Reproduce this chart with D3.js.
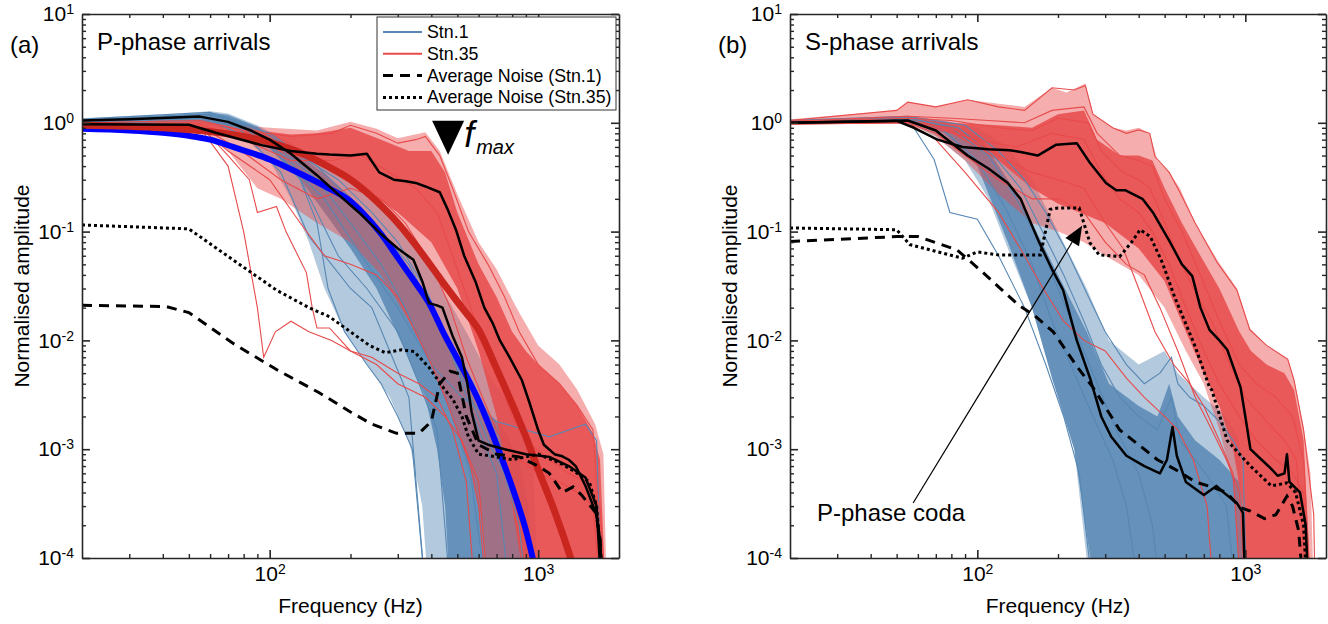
<!DOCTYPE html>
<html>
<head>
<meta charset="utf-8">
<script src="https://cdn.jsdelivr.net/npm/d3@7"></script>
<style>
body { margin: 0; background: #fff; }
text { font-family: "Liberation Sans", Arial, Helvetica, sans-serif; fill: #000; }
</style>
</head>
<body>
<script>
// ---------- data: [frequency (Hz), normalised amplitude] ----------
// panel (a) P-phase
const aStn1OuterTop = [[20,1.1],[40,1.2],[60,1.28],[70,1.22],[90,0.95],[120,0.65],[160,0.42],[200,0.28],[260,0.16],[330,0.09],[400,0.045],[470,0.022],[550,0.011],[650,0.005],[750,0.003],[850,0.0017],[950,0.0012],[1000,5e-5]];
const aStn1OuterBot = [[20,0.97],[55,1.0],[75,0.85],[100,0.45],[120,0.2],[140,0.08],[160,0.03],[190,0.012],[230,0.006],[280,0.003],[330,0.0012],[370,3e-4],[390,5e-5]];
const aStn1CoreTop = [[20,1.08],[40,1.17],[60,1.24],[70,1.18],[90,0.92],[120,0.58],[160,0.34],[200,0.21],[250,0.11],[330,0.045],[400,0.02],[480,0.009],[550,0.0045],[650,0.0022],[750,0.0015],[850,8e-4],[920,3e-4],[960,5e-5]];
const aStn1CoreBot = [[20,1.0],[55,1.05],[75,0.9],[100,0.58],[130,0.3],[160,0.15],[200,0.07],[250,0.03],[320,0.008],[380,0.003],[420,0.001],[450,3e-4],[470,5e-5]];
const aStn35OuterTop = [[20,1.02],[55,1.07],[70,0.97],[100,0.9],[150,0.85],[200,1.02],[250,0.88],[300,0.72],[380,0.82],[430,0.55],[500,0.22],[600,0.08],[700,0.045],[830,0.02],[1000,0.009],[1200,0.006],[1400,0.0035],[1630,0.0017],[1750,9e-4],[1800,5e-5]];
const aStn35OuterBot = [[20,0.85],[55,0.87],[70,0.55],[90,0.25],[110,0.2],[150,0.12],[200,0.08],[260,0.04],[330,0.015],[400,0.006],[480,0.002],[560,7e-4],[620,2e-4],[650,5e-5]];
const aStn35CoreTop = [[20,1.0],[55,1.04],[80,0.88],[120,0.78],[150,0.8],[200,0.9],[260,0.7],[330,0.55],[400,0.55],[450,0.35],[500,0.15],[600,0.05],[700,0.025],[800,0.012],[900,0.008],[1000,0.006],[1200,0.004],[1400,0.0025],[1600,0.0014],[1700,8e-4],[1780,5e-5]];
const aStn35CoreBot = [[20,0.88],[55,0.9],[80,0.7],[120,0.5],[150,0.45],[200,0.3],[300,0.15],[400,0.08],[500,0.03],[600,0.008],[700,0.002],[800,3e-4],[900,5e-5]];

const aStn1Line1 = [[20,1.05],[55,1.2],[70,1.1],[100,0.7],[150,0.3],[200,0.12],[260,0.05],[320,0.02],[400,0.006],[480,0.002],[560,6e-4],[640,5e-5]];
const aStn1Line2 = [[20,1.0],[55,1.1],[80,0.9],[120,0.45],[150,0.15],[180,0.06],[230,0.03],[300,0.012],[360,0.004],[420,0.0015],[470,5e-5]];
const aStn1Line3 = [[20,1.08],[60,1.25],[90,0.9],[130,0.5],[180,0.3],[240,0.15],[300,0.08],[380,0.03],[450,0.012],[520,0.004],[600,0.0015],[700,6e-4],[780,5e-5]];
const aStn1Line4 = [[20,1.0],[55,1.15],[100,0.6],[160,0.2],[220,0.06],[300,0.02],[400,0.006],[520,0.003],[700,0.0018],[900,0.0015],[1100,0.0013],[1300,0.0015],[1500,0.0017],[1650,0.0012],[1720,5e-5]];
const aStn1Line5 = [[20,0.98],[55,1.05],[75,0.95],[110,0.35],[140,0.09],[170,0.05],[200,0.03],[240,0.02],[280,0.008],[330,0.003],[380,5e-5]];
const aStn1Line6 = [[20,1.0],[55,1.12],[90,0.8],[130,0.3],[150,0.12],[165,0.03],[190,0.012],[230,0.006],[260,0.004],[300,0.002],[340,0.001],[380,5e-5]];
const aStn1Line7 = [[20,1.05],[60,1.2],[100,0.8],[150,0.4],[200,0.2],[260,0.1],[330,0.05],[400,0.02],[470,0.008],[560,0.003],[650,0.0012],[750,6e-4],[850,2e-4],[900,5e-5]];

const aStn35Line1 = [[20,0.9],[55,0.95],[70,0.5],[84,0.3],[90,0.15],[106,0.17],[115,0.1],[137,0.042],[144,0.02],[150,0.013],[167,0.013],[200,0.008],[250,0.006],[300,0.004],[380,0.003],[450,0.002],[520,0.0012],[600,5e-4],[650,5e-5]];
const aStn35Line2 = [[20,0.88],[55,0.9],[70,0.4],[80,0.1],[90,0.02],[95,0.007],[105,0.012],[120,0.015],[140,0.012],[170,0.01],[200,0.008],[240,0.007],[300,0.005],[360,0.004],[420,0.003],[480,0.0015],[540,5e-4],[580,5e-5]];
const aStn35Line3 = [[20,1.0],[55,1.05],[80,0.85],[120,0.75],[170,0.8],[200,0.95],[250,0.8],[300,0.65],[350,0.7],[380,0.75],[430,0.5],[480,0.25],[550,0.1],[650,0.05],[750,0.025],[850,0.012],[1000,0.006],[1200,0.004],[1400,0.0025],[1600,0.0015],[1750,5e-5]];
const aStn35Line4 = [[20,0.95],[55,0.98],[80,0.7],[120,0.45],[170,0.45],[220,0.5],[280,0.35],[350,0.25],[420,0.15],[480,0.06],[560,0.02],[640,0.008],[720,0.004],[800,0.002],[900,0.0012],[1100,8e-4],[1300,6e-4],[1500,5e-4],[1700,3e-4],[1780,5e-5]];
const aStn35Line5 = [[20,0.9],[55,0.92],[75,0.6],[110,0.3],[150,0.2],[200,0.25],[260,0.2],[320,0.12],[400,0.05],[470,0.02],[540,0.007],[620,0.003],[700,0.0015],[850,8e-4],[1000,6e-4],[1200,5e-4],[1400,4e-4],[1600,3e-4],[1700,5e-5]];
const aStn35Line6 = [[20,0.88],[55,0.9],[70,0.55],[100,0.3],[130,0.12],[160,0.06],[200,0.05],[250,0.04],[300,0.025],[350,0.012],[400,0.006],[450,0.003],[500,0.0015],[560,7e-4],[600,3e-4],[640,5e-5]];

const aFitStn1 = [[20,0.88],[30,0.85],[40,0.81],[50,0.76],[60,0.7],[73,0.6],[100,0.46],[127,0.35],[166,0.25],[200,0.19],[222,0.149],[260,0.095],[298,0.059],[340,0.037],[392,0.022],[450,0.011],[500,0.0068],[600,0.0028],[700,0.0011],[800,4.5e-4],[900,1.8e-4],[1000,6e-5]];
const aFitStn35 = [[20,0.95],[40,0.9],[60,0.83],[80,0.75],[100,0.66],[130,0.53],[167,0.39],[200,0.3],[250,0.19],[300,0.12],[343,0.08],[400,0.048],[450,0.032],[520,0.02],[600,0.0125],[700,0.0055],[790,0.0028],[900,0.0013],[1000,6.5e-4],[1150,2.7e-4],[1320,1e-4],[1400,6e-5]];
const aMeanStn1 = [[20,1.05],[30,1.08],[55,1.14],[70,1.02],[85,0.85],[100,0.7],[120,0.52],[150,0.33],[180,0.22],[215,0.15],[260,0.095],[300,0.07],[343,0.055],[370,0.035],[392,0.022],[420,0.021],[440,0.02],[480,0.011],[520,0.007],[545,0.004],[565,0.0022],[600,0.0012],[650,0.0011],[750,0.001],[900,9e-4],[1100,8.5e-4],[1300,7e-4],[1500,5.5e-4],[1650,3e-4],[1720,5e-5]];
const aMeanStn35 = [[20,0.97],[50,0.96],[63,0.81],[94,0.62],[120,0.55],[150,0.52],[167,0.51],[200,0.5],[230,0.52],[256,0.35],[290,0.3],[322,0.29],[350,0.28],[380,0.26],[430,0.23],[460,0.16],[494,0.104],[530,0.06],[586,0.034],[630,0.02],[676,0.0145],[720,0.01],[780,0.0071],[870,0.0043],[927,0.0027],[1000,0.0015],[1050,0.0011],[1150,9e-4],[1230,8.6e-4],[1300,8e-4],[1380,7e-4],[1500,4.6e-4],[1640,2.6e-4],[1700,1.5e-4],[1740,5e-5]];
const aNoiseStn1 = [[20,0.021],[41,0.0205],[50,0.018],[73,0.0094],[106,0.0054],[153,0.0033],[200,0.0022],[240,0.0017],[297,0.0014],[360,0.0014],[400,0.0018],[430,0.004],[470,0.0052],[500,0.005],[540,0.002],[600,0.0011],[700,9e-4],[850,8.5e-4],[1000,7e-4],[1100,6e-4],[1230,4e-4],[1350,4.5e-4],[1450,3.8e-4],[1640,2.6e-4],[1700,1.5e-4],[1740,5e-5]];
const aNoiseStn35 = [[20,0.115],[50,0.106],[73,0.055],[106,0.029],[140,0.02],[167,0.0165],[200,0.012],[235,0.009],[270,0.0077],[310,0.0082],[345,0.0079],[391,0.0057],[450,0.0035],[480,0.0029],[520,0.002],[550,0.0013],[600,9e-4],[700,8.5e-4],[800,8e-4],[1000,9e-4],[1200,7.5e-4],[1400,6e-4],[1550,5e-4],[1650,3e-4],[1750,5e-5]];

// panel (b) S-phase
const bStn1OuterTop = [[20,1.07],[55,1.16],[75,1.05],[100,0.9],[130,0.6],[160,0.3],[200,0.1],[256,0.03],[310,0.01],[400,0.006],[500,0.008],[560,0.005],[700,0.003],[850,0.002],[950,0.0012],[1020,5e-5]];
const bStn1OuterBot = [[20,0.97],[55,1.0],[70,0.75],[90,0.45],[110,0.2],[130,0.07],[160,0.02],[191,0.0043],[230,0.001],[264,5e-5]];
const bStn1CoreTop = [[20,1.06],[55,1.14],[75,1.0],[100,0.8],[130,0.3],[160,0.12],[200,0.04],[256,0.012],[310,0.004],[400,0.0025],[470,0.002],[520,0.004],[560,0.002],[650,0.0012],[800,8e-4],[950,5e-4],[1000,2e-4],[1010,5e-5]];
const bStn1CoreBot = [[20,0.98],[55,1.02],[75,0.8],[100,0.4],[130,0.08],[160,0.02],[191,0.0043],[230,0.001],[264,1e-4],[270,5e-5]];
const bStn35OuterTop = [[20,1.08],[50,1.3],[55,1.55],[70,1.4],[92,1.63],[120,1.5],[150,1.4],[190,2.1],[215,1.9],[253,2.3],[270,1.2],[320,0.9],[360,0.85],[400,0.9],[440,0.8],[470,0.45],[520,0.35],[570,0.25],[650,0.12],[785,0.055],[930,0.03],[1040,0.013],[1200,0.009],[1440,0.0068],[1520,0.0045],[1650,0.0016],[1750,6e-4],[1800,5e-5]];
const bStn35OuterBot = [[20,0.96],[55,0.99],[70,0.75],[90,0.45],[120,0.22],[160,0.12],[200,0.1],[250,0.08],[300,0.06],[400,0.04],[500,0.02],[600,0.008],[700,0.004],[800,0.0015],[900,5e-4],[960,5e-5]];
const bStn35CoreTop = [[20,1.05],[55,1.1],[80,1.0],[120,0.95],[160,0.9],[200,1.2],[250,1.3],[280,0.7],[340,0.5],[400,0.5],[450,0.45],[500,0.25],[580,0.12],[680,0.06],[800,0.03],[950,0.012],[1050,0.008],[1200,0.006],[1400,0.005],[1520,0.0035],[1650,0.0012],[1760,5e-5]];
const bStn35CoreBot = [[20,0.97],[55,1.0],[80,0.8],[120,0.45],[160,0.25],[200,0.18],[300,0.12],[400,0.07],[500,0.035],[600,0.012],[700,0.005],[800,0.0025],[900,0.001],[980,3e-4],[1000,5e-5]];

const bStn1Line1 = [[20,1.0],[55,1.1],[69,0.46],[79,0.15],[100,0.13],[120,0.06],[150,0.02],[180,0.006],[210,0.002],[240,6e-4],[270,5e-5]];
const bStn1Line2 = [[20,1.02],[55,1.12],[80,0.9],[110,0.5],[140,0.2],[170,0.08],[200,0.03],[240,0.01],[280,0.004],[330,0.0015],[400,6e-4],[450,2e-4],[480,5e-5]];
const bStn1Line3 = [[20,1.05],[55,1.15],[90,0.95],[120,0.55],[150,0.3],[180,0.15],[220,0.06],[260,0.025],[300,0.012],[360,0.006],[420,0.004],[480,0.005],[530,0.007],[560,0.004],[620,0.003],[700,0.0025],[800,0.0018],[900,0.0012],[980,8e-4],[1010,5e-5]];
const bStn1Line4 = [[20,1.0],[55,1.08],[75,0.85],[100,0.45],[130,0.15],[160,0.05],[190,0.015],[230,0.005],[270,0.002],[320,8e-4],[360,3e-4],[400,5e-5]];
const bStn1Line5 = [[20,1.03],[55,1.1],[85,0.9],[115,0.5],[145,0.25],[175,0.1],[210,0.04],[250,0.015],[290,0.006],[340,0.003],[400,0.002],[470,0.0015],[530,0.003],[570,0.0012],[650,8e-4],[750,5e-4],[850,3e-4],[920,5e-5]];

const bStn35Line1 = [[20,1.05],[50,1.3],[55,1.55],[70,1.4],[92,1.63],[120,1.4],[150,1.3],[190,2.1],[230,2.0],[253,2.2],[270,1.2],[320,0.9],[360,0.8],[400,0.86],[440,0.8],[460,0.49],[520,0.35],[570,0.23],[650,0.12],[785,0.052],[930,0.029],[1040,0.0125],[1200,0.009],[1440,0.0067],[1520,0.0043],[1650,0.0015],[1800,2.5e-4],[1820,5e-5]];
const bStn35Line2 = [[20,1.03],[55,1.15],[80,1.1],[110,1.05],[150,1.0],[190,1.3],[250,1.4],[280,0.8],[340,0.5],[400,0.45],[450,0.4],[500,0.2],[580,0.1],[680,0.04],[800,0.015],[950,0.006],[1100,0.004],[1300,0.003],[1500,0.002],[1650,8e-4],[1750,5e-5]];
const bStn35Line3 = [[20,1.0],[55,1.05],[75,0.85],[100,0.7],[140,0.6],[190,0.8],[250,0.7],[290,0.35],[340,0.2],[400,0.15],[450,0.1],[520,0.05],[600,0.02],[700,0.008],[800,0.004],[950,0.002],[1100,0.0012],[1300,8e-4],[1500,6e-4],[1650,4e-4],[1720,5e-5]];
const bStn35Line4 = [[20,0.98],[55,1.0],[70,0.8],[90,0.5],[120,0.3],[160,0.2],[200,0.2],[250,0.15],[300,0.08],[360,0.05],[420,0.04],[480,0.02],[560,0.008],[650,0.003],[750,0.0015],[850,8e-4],[950,4e-4],[1000,5e-5]];
const bStn35Line5 = [[20,0.97],[55,1.0],[70,0.7],[90,0.35],[120,0.15],[150,0.06],[176,0.03],[210,0.015],[250,0.01],[300,0.008],[360,0.0045],[420,0.003],[500,0.002],[560,0.0015],[640,8e-4],[720,3e-4],[760,5e-5]];
const bStn35Line6 = [[20,1.02],[55,1.1],[80,1.05],[120,0.9],[160,0.85],[200,1.1],[260,1.0],[290,0.55],[350,0.35],[400,0.3],[440,0.25],[500,0.12],[560,0.06],[640,0.03],[750,0.015],[850,0.007],[1000,0.003],[1200,0.0018],[1400,0.0012],[1550,8e-4],[1700,5e-5]];
const bStn35Line7 = [[20,1.0],[55,1.02],[80,0.9],[120,0.5],[160,0.35],[200,0.3],[250,0.25],[300,0.12],[350,0.07],[400,0.03],[460,0.012],[540,0.006],[620,0.004],[700,0.0025],[800,0.0012],[900,6e-4],[960,5e-5]];

const bMeanStn1 = [[20,1.0],[55,1.05],[70,0.85],[92,0.5],[110,0.38],[130,0.28],[145,0.2],[170,0.08],[190,0.045],[209,0.029],[235,0.01],[265,0.0043],[290,0.002],[316,0.0013],[360,8.7e-4],[420,7e-4],[480,6e-4],[510,8e-4],[535,0.0016],[555,8.7e-4],[600,5e-4],[700,3.8e-4],[780,4.6e-4],[830,4e-4],[930,3.2e-4],[980,2.6e-4],[1000,5e-5]];
const bMeanStn35 = [[20,1.0],[50,1.04],[58,0.9],[71,0.7],[88,0.6],[110,0.57],[132,0.56],[145,0.54],[168,0.5],[197,0.63],[235,0.65],[263,0.43],[302,0.28],[330,0.24],[356,0.24],[413,0.2],[452,0.15],[525,0.079],[580,0.05],[634,0.039],[680,0.02],[735,0.0125],[800,0.01],[856,0.0082],[960,0.0037],[1000,0.002],[1045,0.001],[1150,8e-4],[1250,6.6e-4],[1320,5.7e-4],[1400,6e-4],[1430,9e-4],[1460,5e-4],[1600,4e-4],[1680,2e-4],[1720,5e-5]];
const bNoiseStn1 = [[20,0.081],[50,0.09],[60,0.09],[84,0.068],[105,0.042],[120,0.031],[143,0.021],[163,0.017],[192,0.012],[236,0.0057],[270,0.0037],[340,0.0015],[420,0.001],[470,8e-4],[520,7e-4],[580,6e-4],[650,5e-4],[750,4.5e-4],[850,4e-4],[960,2.9e-4],[1045,2.7e-4],[1180,2.3e-4],[1300,2.5e-4],[1430,3.7e-4],[1500,3e-4],[1580,1.8e-4],[1650,5e-5]];
const bNoiseStn35 = [[20,0.108],[50,0.104],[56,0.076],[88,0.057],[100,0.065],[120,0.061],[172,0.061],[187,0.16],[200,0.165],[240,0.165],[263,0.079],[285,0.061],[340,0.059],[375,0.079],[405,0.104],[442,0.09],[490,0.052],[545,0.025],[650,0.0088],[735,0.0037],[750,0.0035],[856,0.0012],[1045,7e-4],[1250,4.6e-4],[1430,4.9e-4],[1540,4e-4],[1650,2e-4],[1700,5e-5]];

// annotation positions (data coordinates)
const fmaxMarker = [462, 0.73];
const codaArrow = [[57.6, 3.2e-4], [246, 0.113]];

const legendLabels = ["Stn.1", "Stn.35", "Average Noise (Stn.1)", "Average Noise (Stn.35)"];

// ---------- layout ----------
const W = 1328, H = 624;
const yTop = 14, yBottom = 558;
const colStn1 = "#5787b4", colStn35 = "#e84a4a";

const svg = d3.select("body").append("svg").attr("width", W).attr("height", H);

const panels = [
  { id: "a", left: 82, right: 619, tag: "(a)", title: "P-phase arrivals",
    outer: [[aStn1OuterTop, aStn1OuterBot, colStn1], [aStn35OuterTop, aStn35OuterBot, colStn35]],
    core: [[aStn1CoreTop, aStn1CoreBot, colStn1], [aStn35CoreTop, aStn35CoreBot, colStn35]],
    stn1: [aStn1Line1, aStn1Line2, aStn1Line3, aStn1Line4, aStn1Line5, aStn1Line6, aStn1Line7],
    stn35: [aStn35Line1, aStn35Line2, aStn35Line3, aStn35Line4, aStn35Line5, aStn35Line6],
    fits: [[aFitStn1, "#0000ff", 6], [aFitStn35, "#c9261f", 7]],
    means: [aMeanStn1, aMeanStn35], noise1: aNoiseStn1, noise35: aNoiseStn35 },
  { id: "b", left: 790, right: 1326, tag: "(b)", title: "S-phase arrivals",
    outer: [[bStn1OuterTop, bStn1OuterBot, colStn1], [bStn35OuterTop, bStn35OuterBot, colStn35]],
    core: [[bStn1CoreTop, bStn1CoreBot, colStn1], [bStn35CoreTop, bStn35CoreBot, colStn35]],
    stn1: [bStn1Line1, bStn1Line2, bStn1Line3, bStn1Line4, bStn1Line5],
    stn35: [bStn35Line1, bStn35Line2, bStn35Line3, bStn35Line4, bStn35Line5, bStn35Line6, bStn35Line7],
    fits: [],
    means: [bMeanStn1, bMeanStn35], noise1: bNoiseStn1, noise35: bNoiseStn35 }
];

const yMajor = d3.range(-4, 2).map(e => Math.pow(10, e));
const yMinor = [];
for (let e = -4; e < 1; e++) for (let m = 2; m < 10; m++) yMinor.push(m * Math.pow(10, e));
const xMajor = [100, 1000];
const xMinor = [30, 40, 50, 60, 70, 80, 90, 200, 300, 400, 500, 600, 700, 800, 900];

function supLabel(sel, size) {
  sel.each(function(d) {
    const t = d3.select(this);
    const e = Math.round(Math.log10(d));
    t.text(null);
    t.append("tspan").text("10");
    t.append("tspan").attr("dy", "-0.5em").attr("font-size", size).text(e);
  });
}

panels.forEach(p => {
  const x = d3.scaleLog().domain([20, 2000]).range([p.left, p.right]);
  const y = d3.scaleLog().domain([1e-4, 10]).range([yBottom, yTop]);
  const line = d3.line().x(d => x(d[0])).y(d => y(d[1]));
  const smooth = d3.line().x(d => x(d[0])).y(d => y(d[1])).curve(d3.curveMonotoneX);
  const poly = (t, b) => line(t.concat(b.slice().reverse())) + "Z";

  svg.append("clipPath").attr("id", "clip-" + p.id)
    .append("rect").attr("x", p.left).attr("y", yTop)
    .attr("width", p.right - p.left).attr("height", yBottom - yTop);

  const g = svg.append("g").attr("clip-path", `url(#clip-${p.id})`);

  // bundle envelopes (blue first, red on top)
  [0, 1].forEach(k => {
    const [ot, ob, c] = p.outer[k], [ct, cb] = p.core[k];
    g.append("path").attr("d", poly(ot, ob)).attr("fill", c).attr("fill-opacity", 0.45);
    g.append("path").attr("d", poly(ct, cb)).attr("fill", c).attr("fill-opacity", 0.85);
  });

  // single spectra
  g.selectAll(".s1").data(p.stn1).enter().append("path")
    .attr("d", line).attr("fill", "none").attr("stroke", colStn1).attr("stroke-width", 1.1);
  g.selectAll(".s35").data(p.stn35).enter().append("path")
    .attr("d", line).attr("fill", "none").attr("stroke", colStn35).attr("stroke-width", 1.1);

  // model fits
  p.fits.forEach(([d, c, w]) => g.append("path").attr("d", smooth(d)).attr("fill", "none")
    .attr("stroke", c).attr("stroke-width", w));

  // means and noise
  p.means.forEach(d => g.append("path").attr("d", line(d)).attr("fill", "none")
    .attr("stroke", "#000").attr("stroke-width", 2.5).attr("stroke-linejoin", "round"));
  g.append("path").attr("d", line(p.noise1)).attr("fill", "none").attr("stroke", "#000")
    .attr("stroke-width", 3).attr("stroke-dasharray", "10,7");
  g.append("path").attr("d", line(p.noise35)).attr("fill", "none").attr("stroke", "#000")
    .attr("stroke-width", 3).attr("stroke-dasharray", "3,3");

  // axes: inward ticks on all four sides
  const ax = (gen, tr, sc, major, minor, labels) => {
    const gm = svg.append("g").attr("transform", tr)
      .call(gen.scale(sc).tickValues(major).tickSizeInner(-8).tickSizeOuter(0).tickPadding(labels ? 8 : 0));
    gm.select(".domain").attr("stroke", "#262626").attr("stroke-width", 1.6);
    gm.selectAll(".tick line").attr("stroke", "#262626").attr("stroke-width", 1.6);
    if (labels) gm.selectAll(".tick text").attr("font-size", 21).attr("fill", "#262626").call(supLabel, "14px");
    else gm.selectAll(".tick text").remove();
    const gn = svg.append("g").attr("transform", tr)
      .call(gen.scale(sc).tickValues(minor).tickSizeInner(-4).tickSizeOuter(0).tickFormat(""));
    gn.select(".domain").remove();
    gn.selectAll(".tick line").attr("stroke", "#262626").attr("stroke-width", 1.4);
  };
  ax(d3.axisLeft(), `translate(${p.left},0)`, y, yMajor, yMinor, true);
  ax(d3.axisRight(), `translate(${p.right},0)`, y, yMajor, yMinor, false);
  ax(d3.axisBottom(), `translate(0,${yBottom})`, x, xMajor, xMinor, true);
  ax(d3.axisTop(), `translate(0,${yTop})`, x, xMajor, xMinor, false);

  // texts
  svg.append("text").attr("x", p.left - 72).attr("y", 53).attr("font-size", 24).text(p.tag);
  svg.append("text").attr("x", p.left + 15).attr("y", 50).attr("font-size", 24).text(p.title);
  svg.append("text").attr("x", (p.left + p.right) / 2).attr("y", 613).attr("text-anchor", "middle")
    .attr("font-size", 21).attr("fill", "#262626").text("Frequency (Hz)");
  svg.append("text").attr("transform", `translate(${p.left - 53},${(yTop + yBottom) / 2}) rotate(-90)`)
    .attr("text-anchor", "middle").attr("font-size", 21).attr("fill", "#262626").text("Normalised amplitude");

  if (p.id === "a") {
    // f_max marker
    const fx = x(fmaxMarker[0]), fy = y(fmaxMarker[1]);
    svg.append("path").attr("d", `M${fx - 16},${fy - 17}L${fx + 16},${fy - 17}L${fx},${fy + 17}Z`).attr("fill", "#000");
    const ft = svg.append("text").attr("x", fx + 16).attr("y", fy + 9).attr("font-style", "italic").attr("font-size", 36);
    ft.append("tspan").text("f");
    ft.append("tspan").attr("font-size", 20).attr("dy", 7).attr("dx", 2).text("max");

    // legend
    const lg = svg.append("g").attr("transform", "translate(377,17)");
    lg.append("rect").attr("width", 239).attr("height", 93).attr("fill", "#fff")
      .attr("stroke", "#333").attr("stroke-width", 1);
    const styles = [[colStn1, 2, null], [colStn35, 2, null], ["#000", 3, "10,7"], ["#000", 3, "3,3"]];
    legendLabels.forEach((lab, i) => {
      const ly = 15 + i * 21.8;
      lg.append("line").attr("x1", 6).attr("x2", 45).attr("y1", ly).attr("y2", ly)
        .attr("stroke", styles[i][0]).attr("stroke-width", styles[i][1])
        .attr("stroke-dasharray", styles[i][2]);
      lg.append("text").attr("x", 50).attr("y", ly + 6).attr("font-size", 17.8).text(lab);
    });
  } else {
    const [s, e] = codaArrow.map(d => [x(d[0]), y(d[1])]);
    const ang = Math.atan2(e[1] - s[1], e[0] - s[0]);
    const L = 19, hw = 8;
    const bx = e[0] - L * Math.cos(ang), by = e[1] - L * Math.sin(ang);
    svg.append("line").attr("x1", s[0]).attr("y1", s[1]).attr("x2", bx).attr("y2", by)
      .attr("stroke", "#000").attr("stroke-width", 1.2);
    svg.append("path").attr("d", `M${e[0]},${e[1]}L${bx + hw * Math.sin(ang)},${by - hw * Math.cos(ang)}L${bx - hw * Math.sin(ang)},${by + hw * Math.cos(ang)}Z`)
      .attr("fill", "#000");
    svg.append("text").attr("x", 817).attr("y", 521).attr("font-size", 24).text("P-phase coda");
  }
});
</script>
</body>
</html>
